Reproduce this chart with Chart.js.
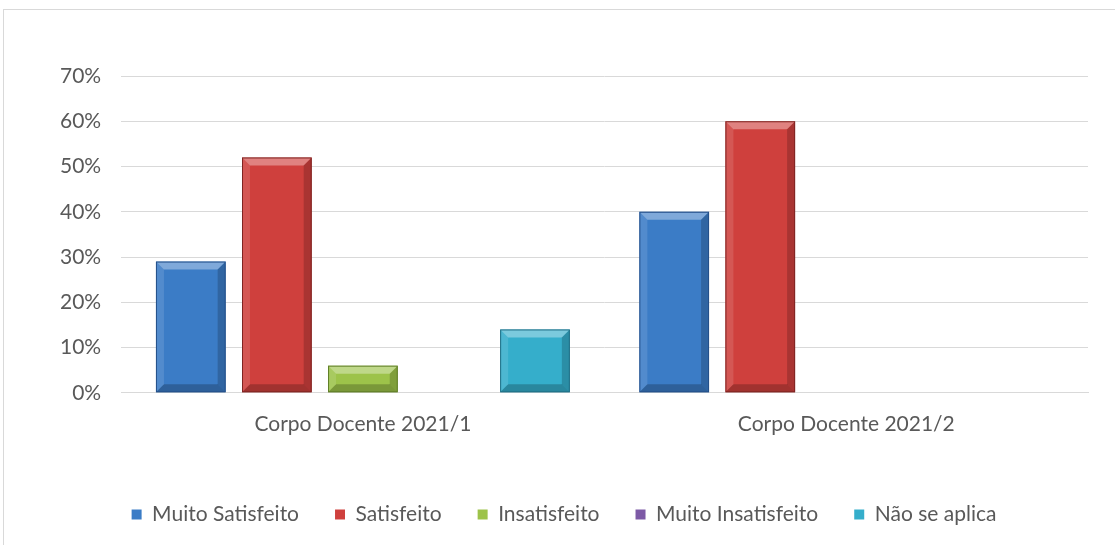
<!DOCTYPE html>
<html>
<head>
<meta charset="utf-8">
<script src="https://cdn.jsdelivr.net/npm/chart.js@4"></script>
<style>
  html, body { margin: 0; padding: 0; background: #fff; overflow: hidden; }
  #wrap { position: relative; width: 1115px; height: 545px; }
  #frame { position: absolute; left: 3px; top: 9px; width: 1130px; height: 600px; border: 1px solid #d9d9d9; }
  #wrap canvas { position: absolute; left: 0; top: 0; }
</style>
</head>
<body>
<div id="wrap">
  <div id="frame"></div>
  <canvas id="chart" width="1115" height="545"></canvas>
</div>
<script>
// categories and series (fractions)
const categories = ['Corpo Docente 2021/1', 'Corpo Docente 2021/2'];
const muitoSatisfeito = [0.29, 0.40];
const satisfeito = [0.52, 0.60];
const insatisfeito = [0.06, 0];
const muitoInsatisfeito = [0, 0];
const naoSeAplica = [0.14, 0];
const yTicks = [0, 0.1, 0.2, 0.3, 0.4, 0.5, 0.6, 0.7];

const seriesNames = ['Muito Satisfeito', 'Satisfeito', 'Insatisfeito', 'Muito Insatisfeito', 'Não se aplica'];
const seriesValues = [muitoSatisfeito, satisfeito, insatisfeito, muitoInsatisfeito, naoSeAplica];
const fills = ['#3b7cc6', '#cf403d', '#9dc34a', '#7d5aa6', '#35aecb'];
const edges = ['#24508a', '#7f2422', '#5f7d26', '#4d3570', '#1f6f85'];
const FONT = 'Lato';

// draws the bevelled look of the bars on top of the flat fill
const bevel = {
  id: 'bevel',
  afterDatasetsDraw(chart) {
    const ctx = chart.ctx;
    chart.data.datasets.forEach((ds, i) => {
      chart.getDatasetMeta(i).data.forEach(bar => {
        const x0 = bar.x - bar.width / 2, x1 = bar.x + bar.width / 2;
        const top = bar.y, bot = bar.base;
        if (bot - top < 2) return;
        const b = Math.min(8, (bot - top) / 2);
        ctx.save();
        // top highlight
        ctx.fillStyle = 'rgba(255,255,255,0.35)';
        ctx.beginPath();
        ctx.moveTo(x0, top); ctx.lineTo(x1, top); ctx.lineTo(x1 - b, top + b); ctx.lineTo(x0 + b, top + b);
        ctx.closePath(); ctx.fill();
        // left light
        ctx.fillStyle = 'rgba(255,255,255,0.12)';
        ctx.beginPath();
        ctx.moveTo(x0, top); ctx.lineTo(x0 + b, top + b); ctx.lineTo(x0 + b, bot - b); ctx.lineTo(x0, bot);
        ctx.closePath(); ctx.fill();
        // right shade
        ctx.fillStyle = 'rgba(0,0,0,0.18)';
        ctx.beginPath();
        ctx.moveTo(x1, top); ctx.lineTo(x1 - b, top + b); ctx.lineTo(x1 - b, bot - b); ctx.lineTo(x1, bot);
        ctx.closePath(); ctx.fill();
        // bottom shade
        ctx.fillStyle = 'rgba(0,0,0,0.22)';
        ctx.beginPath();
        ctx.moveTo(x0, bot); ctx.lineTo(x0 + b, bot - b); ctx.lineTo(x1 - b, bot - b); ctx.lineTo(x1, bot);
        ctx.closePath(); ctx.fill();
        ctx.strokeStyle = edges[i];
        ctx.lineWidth = 1;
        ctx.strokeRect(x0 + 0.5, top + 0.5, bar.width - 1, bot - top - 1);
        ctx.restore();
      });
    });
  }
};

const ctx = document.getElementById('chart').getContext('2d');
new Chart(ctx, {
  type: 'bar',
  data: {
    labels: categories,
    datasets: seriesNames.map((name, i) => ({
      label: name,
      data: seriesValues[i],
      backgroundColor: fills[i],
      borderWidth: 0,
      categoryPercentage: 0.89,
      barPercentage: 0.81
    }))
  },
  plugins: [bevel],
  options: {
    responsive: false,
    animation: false,
    layout: { padding: { left: 40, right: 27, top: 76, bottom: 10 } },
    plugins: {
      legend: {
        position: 'bottom',
        labels: {
          boxWidth: 10,
          boxHeight: 10,
          padding: 36,
          color: '#595959',
          font: { family: FONT, size: 21 }
        }
      },
      tooltip: { enabled: false }
    },
    scales: {
      x: {
        grid: { display: false },
        border: { color: '#d9d9d9' },
        afterFit: axis => { axis.height += 20; },
        ticks: { color: '#595959', padding: 11, font: { family: FONT, size: 21 } }
      },
      y: {
        min: 0,
        max: 0.7,
        afterBuildTicks: axis => { axis.ticks = yTicks.map(v => ({ value: v })); },
        grid: { color: '#d9d9d9', drawTicks: false },
        border: { display: false },
        ticks: {
          color: '#595959',
          padding: 20,
          font: { family: FONT, size: 21 },
          callback: v => Math.round(v * 100) + '%'
        }
      }
    }
  }
});
</script>
</body>
</html>
